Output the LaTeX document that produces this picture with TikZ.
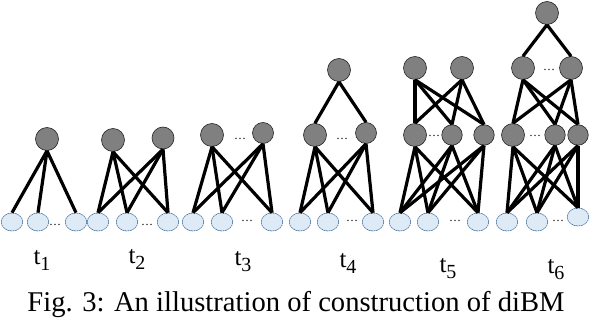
\documentclass[tikz,border=0pt]{standalone}
\usepackage{fontspec}
\setmainfont{Liberation Serif}
\usetikzlibrary{shapes.geometric}

\definecolor{visfill}{HTML}{DEEBF7}
\definecolor{visline}{HTML}{41719C}
\newcommand{\tlabel}[1]{t\raisebox{-6pt}{\fontsize{20}{20}\selectfont #1}}

\begin{document}
\begin{tikzpicture}[x=1pt, y=-1pt, every node/.style={font=\fontsize{25}{30}\selectfont},
	hid/.style={circle, draw=black!85, line width=0.6pt, fill=gray, minimum size=23pt, inner sep=0pt},
	hids/.style={hid, minimum size=20.5pt},
	vis/.style={ellipse, draw=visline, line width=0.6pt, dash pattern=on 2pt off 0.6pt, fill=visfill, minimum width=21.5pt, minimum height=18pt, inner sep=0pt},
	dd/.style={font=\fontsize{12}{12}\selectfont, inner sep=0pt},
	w/.style={line width=3.2pt}]
	\useasboundingbox (0,0) rectangle (592,318);
	% t1
	\node[vis] (a1) at (12,222) {};
	\node[vis] (a2) at (38,222) {};
	\node[vis] (a3) at (76,222) {};
	\node[dd] (ad) at (55,225) {\dots};
	\node[hid] (ah) at (47,139) {};
	% t2
	\node[vis] (b1) at (98,222) {};
	\node[vis] (b2) at (127,222) {};
	\node[vis] (b3) at (168,222) {};
	\node[dd] (bd) at (147,225) {\dots};
	\node[hid] (bh1) at (113,140) {};
	\node[hids, minimum size=22pt] (bh2) at (163,138) {};
	% t3
	\node[vis] (c1) at (193,222) {};
	\node[vis] (c2) at (222,222) {};
	\node[vis] (c3) at (272,222) {};
	\node[dd] (cd) at (247,221) {\dots};
	\node[hid] (ch1) at (212,135) {};
	\node[hids, minimum size=21pt] (ch2) at (263,133) {};
	\node[dd] (chd) at (240,139) {\dots};
	% t4
	\node[vis] (d1) at (300,222) {};
	\node[vis] (d2) at (328,222) {};
	\node[vis] (d3) at (373,222) {};
	\node[dd] (dd) at (352,221) {\dots};
	\node[hid] (dh1) at (315,135) {};
	\node[hids, minimum size=21pt] (dh2) at (366,133) {};
	\node[dd] (dhd) at (342,139) {\dots};
	\node[hid] (dt) at (339,70) {};
	% t5
	\node[vis] (e1) at (400,222) {};
	\node[vis] (e2) at (428,222) {};
	\node[vis] (e3) at (478,222) {};
	\node[dd] (ed) at (455,221) {\dots};
	\node[hid] (eh1) at (415,135) {};
	\node[hids] (eh2) at (452,135) {};
	\node[hids] (eh3) at (484,135) {};
	\node[dd] (ehd) at (434,136) {\dots};
	\node[hid] (eg1) at (415,68) {};
	\node[hid] (eg2) at (462,68) {};
	% t6
	\node[vis] (f1) at (507,222) {};
	\node[vis] (f2) at (537,222) {};
	\node[vis] (f3) at (578,217) {};
	\node[dd] (fd) at (558,221) {\dots};
	\node[hid] (fh1) at (513,135) {};
	\node[hids] (fh2) at (555,135) {};
	\node[hids] (fh3) at (578,135) {};
	\node[dd] (fhd) at (535,136) {\dots};
	\node[hid] (fg1) at (523,68) {};
	\node[hid] (fg2) at (571,68) {};
	\node[dd] (fgd) at (549,70) {\dots};
	\node[hid] (ft) at (547,13) {};

	% connections
	\foreach \v in {a1,a2,a3} \draw[w] (ah.south) -- (\v.north);
	\foreach \h in {bh1,bh2} \foreach \v in {b1,b2,b3} \draw[w] (\h.south) -- (\v.north);
	\foreach \h in {ch1,ch2} \foreach \v in {c1,c2,c3} \draw[w] (\h.south) -- (\v.north);
	\foreach \h in {dh1,dh2} \foreach \v in {d1,d2,d3} \draw[w] (\h.south) -- (\v.north);
	\foreach \h in {dh1,dh2} \draw[w] (dt.south) -- (\h.north);
	\foreach \h in {eh1,eh2,eh3} \foreach \v in {e1,e2,e3} \draw[w] (\h.south) -- (\v.north);
	\foreach \g in {eg1,eg2} \foreach \h in {eh1,eh2,eh3} \draw[w] (\g.south) -- (\h.north);
	\foreach \h in {fh1,fh2,fh3} \foreach \v in {f1,f2,f3} \draw[w] (\h.south) -- (\v.north);
	\foreach \g in {fg1,fg2} \foreach \h in {fh1,fh2,fh3} \draw[w] (\g.south) -- (\h.north);
	\foreach \g in {fg1,fg2} \draw[w] (ft.south) -- (\g.north);

	% labels
	\node[anchor=base] (l1) at (42,264) {\tlabel{1}};
	\node[anchor=base] (l2) at (137,263) {\tlabel{2}};
	\node[anchor=base] (l3) at (243,265) {\tlabel{3}};
	\node[anchor=base] (l4) at (348,267) {\tlabel{4}};
	\node[anchor=base] (l5) at (448,272) {\tlabel{5}};
	\node[anchor=base] (l6) at (556,273) {\tlabel{6}};
	\node[anchor=base, font=\fontsize{28.6}{32}\selectfont] (cap) at (296,311) {Fig. 3: An illustration of construction of diBM};
\end{tikzpicture}
\end{document}
